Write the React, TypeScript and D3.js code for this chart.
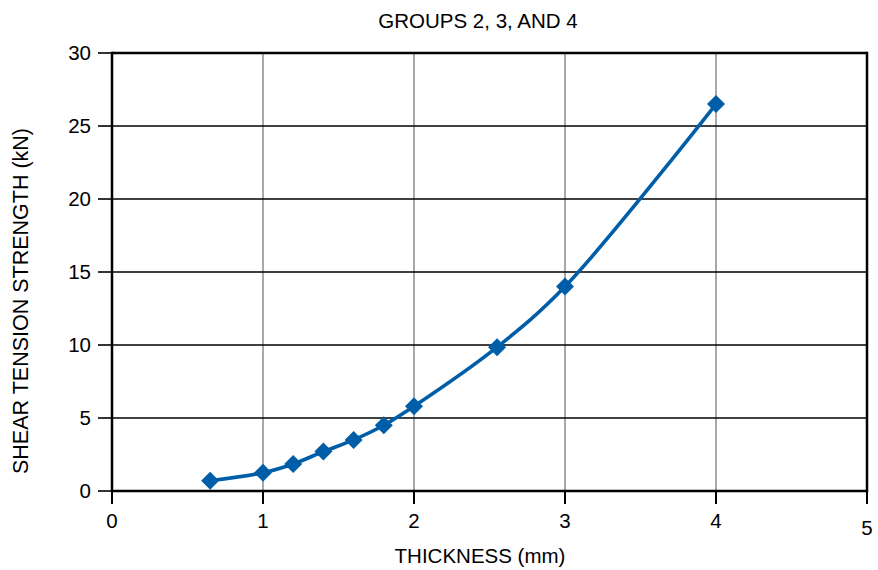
import React from "react";
import * as d3 from "d3";

const thickness = [0.65, 1.0, 1.2, 1.4, 1.6, 1.8, 2.0, 2.55, 3.0, 4.0];
const strength = [0.7, 1.25, 1.85, 2.7, 3.5, 4.5, 5.8, 9.85, 14.0, 26.5];
const xTicks = [0, 1, 2, 3, 4, 5];
const yTicks = [0, 5, 10, 15, 20, 25, 30];
const title = "GROUPS 2, 3, AND 4";
const xTitle = "THICKNESS (mm)";
const yTitle = "SHEAR TENSION STRENGTH (kN)";

const W = 878, H = 570;
const M = { left: 112, right: 11, top: 53, bottom: 79 };

export default function App() {
  const x = d3.scaleLinear().domain([0, 5]).range([M.left, W - M.right]);
  const y = d3.scaleLinear().domain([0, 30]).range([H - M.bottom, M.top]);
  const pts: [number, number][] = thickness.map((t, i) => [x(t), y(strength[i])]);
  const line = d3.line().curve(d3.curveCatmullRom.alpha(0.5))(pts) || "";
  const font = "'Liberation Sans', Arial, Helvetica, sans-serif";
  const x0 = x(0), x5 = x(5), y0 = y(0), y30 = y(30);
  const diamond = (cx: number, cy: number) => {
    const r = 9;
    return `M${cx},${cy - r}L${cx + r},${cy}L${cx},${cy + r}L${cx - r},${cy}Z`;
  };
  const fs = 20.5;
  return (
    <svg width={W} height={H} style={{ position: "absolute", left: 0, top: 0, background: "#fff" }} fontFamily={font}>
      <rect x={0} y={0} width={W} height={H} fill="#fff" />
      {xTicks.filter(t => t > 0 && t < 5).map(t => (
        <line key={"vx" + t} x1={x(t)} x2={x(t)} y1={y30} y2={y0} stroke="#a8a8a8" strokeWidth={2} />
      ))}
      {yTicks.filter(t => t > 0 && t < 30).map(t => (
        <line key={"hy" + t} x1={x0} x2={x5} y1={y(t)} y2={y(t)} stroke="#000" strokeWidth={1.6} />
      ))}
      {yTicks.map(t => (
        <line key={"ty" + t} x1={x0 - 14} x2={x0} y1={y(t)} y2={y(t)} stroke="#000" strokeWidth={1.6} />
      ))}
      {xTicks.map(t => (
        <line key={"tx" + t} x1={x(t)} x2={x(t)} y1={y0} y2={y0 + 13} stroke="#000" strokeWidth={2} />
      ))}
      <line x1={x0} x2={x5} y1={y30} y2={y30} stroke="#000" strokeWidth={2.5} />
      <line x1={x0} x2={x5} y1={y0} y2={y0} stroke="#000" strokeWidth={2.5} />
      <line x1={x0} x2={x0} y1={y30 - 1.2} y2={y0 + 1.2} stroke="#000" strokeWidth={2.5} />
      <line x1={x5} x2={x5} y1={y30 - 1.2} y2={y0 + 1.2} stroke="#000" strokeWidth={2.5} />
      {yTicks.map(t => (
        <text key={"ly" + t} x={x0 - 21} y={y(t)} dy="0.35em" textAnchor="end" fontSize={fs} fill="#000">{t}</text>
      ))}
      {xTicks.map(t => (
        <text key={"lx" + t} x={x(t)} y={t === 5 ? 535 : 528} textAnchor="middle" fontSize={fs} fill="#000">{t}</text>
      ))}
      <path d={line} fill="none" stroke="#005ea8" strokeWidth={3.6} />
      {pts.map((p, i) => (
        <path key={"m" + i} d={diamond(p[0], p[1])} fill="#005ea8" />
      ))}
      <text x={478} y={28} textAnchor="middle" fontSize={fs} fill="#000">{title}</text>
      <text x={480} y={563} textAnchor="middle" fontSize={fs} fill="#000">{xTitle}</text>
      <text transform={`translate(28,301) rotate(-90)`} textAnchor="middle" fontSize={21.5} fill="#000">{yTitle}</text>
    </svg>
  );
}
